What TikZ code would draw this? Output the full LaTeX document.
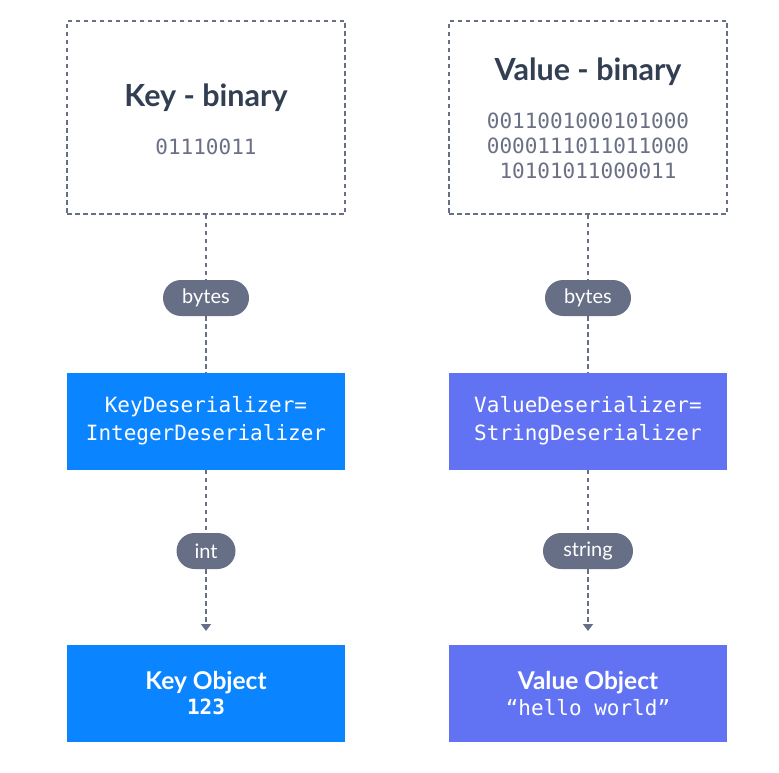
\documentclass[tikz,border=0pt]{standalone}
\usepackage{fontspec}
\setmainfont{Lato}
\setmonofont{DejaVu Sans Mono}
\usetikzlibrary{arrows.meta}
\definecolor{dark}{HTML}{323E52}
\definecolor{pillgray}{HTML}{666F85}
\definecolor{bingray}{HTML}{6B7085}
\definecolor{linegray}{HTML}{666F85}
\definecolor{keyblue}{HTML}{0A84FF}
\definecolor{valpurple}{HTML}{6173F3}
\tikzset{
  rawbox/.style={draw=linegray, line width=1.8pt, dash pattern=on 4.5pt off 3.5pt, minimum width=278pt, minimum height=193pt, inner sep=0pt},
  serbox/.style={minimum width=278pt, minimum height=97pt, inner sep=0pt, text=white, align=center, font=\ttfamily\fontsize{21}{28}\selectfont},
  objbox/.style={minimum width=278pt, minimum height=97pt, inner sep=0pt, text=white, align=center},
  pill/.style={fill=pillgray, text=white, rounded corners=18pt, minimum height=36pt, inner sep=0pt, font=\fontsize{20}{22}\selectfont},
  conn/.style={draw=linegray, line width=1.8pt, dash pattern=on 4.5pt off 3.5pt},
  title/.style={text=dark, font=\bfseries\fontsize{30.5}{34}\selectfont},
  bin/.style={text=bingray, align=center, font=\ttfamily\fontsize{21}{25}\selectfont}
}
\begin{document}
\begin{tikzpicture}[x=1pt,y=-1pt]
\useasboundingbox (0,0) rectangle (779,773);
% top raw boxes
\node[rawbox] (keyraw) at (206,117.5) {};
\node[rawbox] (valraw) at (588,117.5) {};
\node[title] (keytitle) at (206,98) {Key - binary};
\node[bin] (keybin) at (206,147) {01110011};
\node[title] (valtitle) at (588,72) {Value - binary};
\node[bin] (valbin) at (588,146) {0011001000101000\\0000111011011000\\10101011000011};
% pills
\node[pill, minimum width=86pt] (kbytes) at (206,298) {bytes};
\node[pill, minimum width=86pt] (vbytes) at (588,298) {bytes};
\node[pill, minimum width=59pt] (kint) at (206,551) {int};
\node[pill, minimum width=90pt] (vstr) at (588,551) {string};
% deserializers
\node[serbox, fill=keyblue] (kdes) at (206,421) {KeyDeserializer=\\IntegerDeserializer};
\node[serbox, fill=valpurple] (vdes) at (588,421) {ValueDeserializer=\\StringDeserializer};
% objects
\node[objbox, fill=keyblue] (kobj) at (206,693.5) {{\bfseries\fontsize{24.5}{28}\selectfont Key Object}\\[4pt]{\ttfamily\bfseries\fontsize{21}{24}\selectfont 123}};
\node[objbox, fill=valpurple] (vobj) at (588,693.5) {{\bfseries\fontsize{24.5}{28}\selectfont Value Object}\\[4pt]{\ttfamily\fontsize{21}{24}\selectfont “hello world”}};
\coordinate (ktip) at (206,631);
\coordinate (vtip) at (588,631);
% connectors
\draw[conn] (keyraw.south) -- (kbytes.north);
\draw[conn] (kbytes.south) -- (kdes.north);
\draw[conn] (kdes.south) -- (kint.north);
\draw[conn, -{Triangle[width=10pt,length=7pt]}] (kint.south) -- (ktip);
\draw[conn] (valraw.south) -- (vbytes.north);
\draw[conn] (vbytes.south) -- (vdes.north);
\draw[conn] (vdes.south) -- (vstr.north);
\draw[conn, -{Triangle[width=10pt,length=7pt]}] (vstr.south) -- (vtip);
\end{tikzpicture}
\end{document}
